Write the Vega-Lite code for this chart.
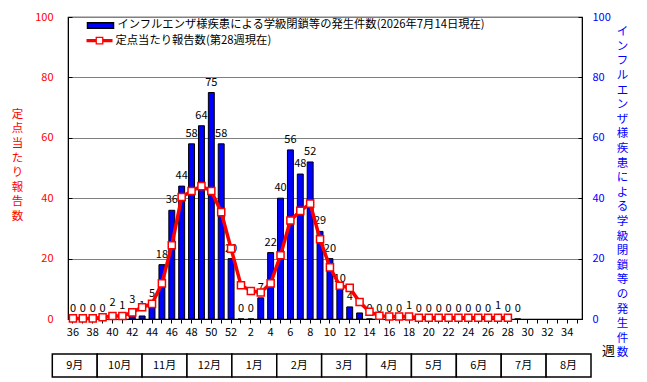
{
  "$schema": "https://vega.github.io/schema/vega-lite/v6.json",
  "width": 514,
  "height": 302,
  "autosize": {"type": "none"},
  "padding": {"left": 68, "top": 17, "right": 65, "bottom": 63},
  "background": "white",
  "config": {
    "font": "Noto Sans CJK JP",
    "view": {"stroke": "black", "strokeWidth": 1.2},
    "axis": {"labelFont": "Noto Sans CJK JP", "titleFont": "Noto Sans CJK JP", "labelFontSize": 11, "domainColor": "black", "tickColor": "black", "titleFontWeight": "normal"},
    "legend": {"labelFont": "Noto Sans CJK JP"}
  },
  "datasets": {
    "weekly": [
      {"week": "36", "cases": 0, "rate": 0.2},
      {"week": "37", "cases": 0, "rate": 0.2},
      {"week": "38", "cases": 0, "rate": 0.2},
      {"week": "39", "cases": 0, "rate": 0.6},
      {"week": "40", "cases": 2, "rate": 1.0},
      {"week": "41", "cases": 1, "rate": 1.0},
      {"week": "42", "cases": 3, "rate": 2.2},
      {"week": "43", "cases": 1, "rate": 3.9},
      {"week": "44", "cases": 5, "rate": 5.0},
      {"week": "45", "cases": 18, "rate": 11.8},
      {"week": "46", "cases": 36, "rate": 24.4},
      {"week": "47", "cases": 44, "rate": 40.4},
      {"week": "48", "cases": 58, "rate": 42.4},
      {"week": "49", "cases": 64, "rate": 44.0},
      {"week": "50", "cases": 75, "rate": 42.4},
      {"week": "51", "cases": 58, "rate": 35.4},
      {"week": "52", "cases": 20, "rate": 23.3},
      {"week": "1", "cases": 0, "rate": 11.2},
      {"week": "2", "cases": 0, "rate": 9.3},
      {"week": "3", "cases": 7, "rate": 8.8},
      {"week": "4", "cases": 22, "rate": 11.8},
      {"week": "5", "cases": 40, "rate": 21.1},
      {"week": "6", "cases": 56, "rate": 32.6},
      {"week": "7", "cases": 48, "rate": 35.8},
      {"week": "8", "cases": 52, "rate": 38.2},
      {"week": "9", "cases": 29, "rate": 26.4},
      {"week": "10", "cases": 20, "rate": 17.1},
      {"week": "11", "cases": 10, "rate": 11.0},
      {"week": "12", "cases": 4, "rate": 10.3},
      {"week": "13", "cases": 2, "rate": 5.6},
      {"week": "14", "cases": 0, "rate": 2.4},
      {"week": "15", "cases": 0, "rate": 1.1},
      {"week": "16", "cases": 0, "rate": 0.8},
      {"week": "17", "cases": 0, "rate": 0.8},
      {"week": "18", "cases": 1, "rate": 0.8},
      {"week": "19", "cases": 0, "rate": 0.4},
      {"week": "20", "cases": 0, "rate": 0.4},
      {"week": "21", "cases": 0, "rate": 0.4},
      {"week": "22", "cases": 0, "rate": 0.4},
      {"week": "23", "cases": 0, "rate": 0.4},
      {"week": "24", "cases": 0, "rate": 0.4},
      {"week": "25", "cases": 0, "rate": 0.4},
      {"week": "26", "cases": 0, "rate": 0.4},
      {"week": "27", "cases": 1, "rate": 0.4},
      {"week": "28", "cases": 0, "rate": 0.4},
      {"week": "29", "cases": 0, "rate": null},
      {"week": "30", "cases": null, "rate": null},
      {"week": "31", "cases": null, "rate": null},
      {"week": "32", "cases": null, "rate": null},
      {"week": "33", "cases": null, "rate": null},
      {"week": "34", "cases": null, "rate": null},
      {"week": "35", "cases": null, "rate": null}
    ],
    "months": [
      {"m": "9月"}, {"m": "10月"}, {"m": "11月"}, {"m": "12月"},
      {"m": "1月"}, {"m": "2月"}, {"m": "3月"}, {"m": "4月"},
      {"m": "5月"}, {"m": "6月"}, {"m": "7月"}, {"m": "8月"}
    ]
  },
  "data": {"name": "weekly"},
  "layer": [
    {
      "mark": {"type": "bar", "stroke": "black", "strokeWidth": 1},
      "encoding": {
        "x": {
          "field": "week", "type": "ordinal",
          "scale": {"domain": ["36","37","38","39","40","41","42","43","44","45","46","47","48","49","50","51","52","1","2","3","4","5","6","7","8","9","10","11","12","13","14","15","16","17","18","19","20","21","22","23","24","25","26","27","28","29","30","31","32","33","34","35"], "paddingInner": 0.4, "paddingOuter": 0.2},
          "axis": {
            "title": "週", "labelExpr": "toNumber(datum.value) % 2 == 0 ? datum.label : ''",
            "labelAngle": 0, "labelOverlap": false, "tickSize": 4, "labelPadding": 3, "labelColor": "black",
            "titleX": 540, "titleY": 31, "titleAlign": "center", "titleBaseline": "middle", "titleFontSize": 13, "titleColor": "black"
          }
        },
        "y": {
          "field": "cases", "type": "quantitative",
          "scale": {"domain": [0, 100], "nice": false},
          "axis": {
            "orient": "right", "values": [0, 20, 40, 60, 80, 100], "labelColor": "#0000ff",
            "grid": true, "gridColor": "#808080", "gridWidth": 1,
            "tickSize": -4, "labelPadding": 14,
            "title": ["イ","ン","フ","ル","エ","ン","ザ","様","疾","患","に","よ","る","学","級","閉","鎖","等","の","発","生","件","数"],
            "titleColor": "#0000ff", "titleFontSize": 11.5, "titleLineHeight": 14.6, "titleAngle": 0,
            "titleX": 40, "titleY": 14.7, "titleAlign": "center", "titleBaseline": "middle"
          }
        },
        "fill": {
          "datum": "インフルエンザ様疾患による学級閉鎖等の発生件数(2026年7月14日現在)",
          "scale": {"range": ["#0000ff"]},
          "legend": {
            "orient": "none", "legendX": 18.5, "legendY": -5.6, "title": null, "padding": 0,
            "symbolType": "M-1,-0.21H1V0.21H-1Z", "symbolSize": 676,
            "labelFontSize": 11.3, "labelLimit": 600, "labelOffset": 3, "labelColor": "black",
            "encode": {"symbols": {"update": {"fill": {"value": "#0000ff"}, "stroke": {"value": "black"}, "strokeWidth": {"value": 0.8}, "opacity": {"value": 1}}}}
          }
        }
      }
    },
    {
      "mark": {"type": "text", "baseline": "bottom", "dy": -5, "fontSize": 11, "color": "black"},
      "encoding": {
        "x": {"field": "week", "type": "ordinal", "scale": {"domain": ["36","37","38","39","40","41","42","43","44","45","46","47","48","49","50","51","52","1","2","3","4","5","6","7","8","9","10","11","12","13","14","15","16","17","18","19","20","21","22","23","24","25","26","27","28","29","30","31","32","33","34","35"], "paddingInner": 0.4, "paddingOuter": 0.2}, "axis": null},
        "y": {"field": "cases", "type": "quantitative", "scale": {"domain": [0, 100], "nice": false}, "axis": null},
        "text": {"field": "cases", "type": "quantitative"}
      }
    },
    {
      "mark": {"type": "line", "strokeWidth": 3.5},
      "encoding": {
        "x": {"field": "week", "type": "ordinal", "scale": {"domain": ["36","37","38","39","40","41","42","43","44","45","46","47","48","49","50","51","52","1","2","3","4","5","6","7","8","9","10","11","12","13","14","15","16","17","18","19","20","21","22","23","24","25","26","27","28","29","30","31","32","33","34","35"], "paddingInner": 0.4, "paddingOuter": 0.2}, "axis": null},
        "y": {
          "field": "rate", "type": "quantitative",
          "scale": {"domain": [0, 100], "nice": false},
          "axis": {
            "orient": "left", "values": [0, 20, 40, 60, 80, 100], "labelColor": "#ff0000", "grid": false,
            "tickSize": -4, "labelPadding": 19,
            "title": ["定","点","当","た","り","報","告","数"],
            "titleColor": "#ff0000", "titleFontSize": 11.5, "titleLineHeight": 14.6, "titleAngle": 0,
            "titleX": -51, "titleY": 97.3, "titleAlign": "center", "titleBaseline": "middle"
          }
        },
        "stroke": {
          "datum": "定点当たり報告数(第28週現在)",
          "scale": {"range": ["#ff0000"]},
          "legend": {
            "orient": "none", "legendX": 18.5, "legendY": 10.6, "title": null, "padding": 0,
            "symbolType": "M-1,-0.13H-0.3V0.13H-1Z M0.3,-0.13H1V0.13H0.3Z M-0.3,-0.3H0.3V0.3H-0.3Z M-0.2,-0.2V0.2H0.2V-0.2Z",
            "symbolSize": 676,
            "labelFontSize": 11.3, "labelLimit": 600, "labelOffset": 3, "labelColor": "black",
            "encode": {"symbols": {"update": {"fill": {"value": "#ff0000"}, "stroke": {"value": "transparent"}, "strokeWidth": {"value": 0}, "opacity": {"value": 1}}}}
          }
        }
      }
    },
    {
      "mark": {"type": "point", "shape": "square", "filled": true, "fill": "white", "stroke": "#ff0000", "strokeWidth": 1.5, "size": 50, "opacity": 1},
      "encoding": {
        "x": {"field": "week", "type": "ordinal", "scale": {"domain": ["36","37","38","39","40","41","42","43","44","45","46","47","48","49","50","51","52","1","2","3","4","5","6","7","8","9","10","11","12","13","14","15","16","17","18","19","20","21","22","23","24","25","26","27","28","29","30","31","32","33","34","35"], "paddingInner": 0.4, "paddingOuter": 0.2}, "axis": null},
        "y": {"field": "rate", "type": "quantitative", "scale": {"domain": [0, 100], "nice": false}, "axis": null}
      }
    },
    {
      "data": {"name": "months"},
      "mark": {"type": "rect", "fill": "white", "stroke": "black", "strokeWidth": 1.5},
      "encoding": {
        "x": {"field": "m", "type": "nominal", "sort": null, "scale": {"type": "band", "range": [-15.7, 523], "paddingInner": 0, "paddingOuter": 0}, "axis": null},
        "y": {"datum": 0, "type": "quantitative", "scale": {"domain": [0, 1], "range": [360, 337]}, "axis": null},
        "y2": {"datum": 1}
      }
    },
    {
      "data": {"name": "months"},
      "mark": {"type": "text", "fontSize": 11, "color": "black", "baseline": "middle"},
      "encoding": {
        "x": {"field": "m", "type": "nominal", "sort": null, "scale": {"type": "band", "range": [-15.7, 523], "paddingInner": 0, "paddingOuter": 0}, "axis": null},
        "y": {"datum": 0.5, "type": "quantitative", "scale": {"domain": [0, 1], "range": [360, 337]}, "axis": null},
        "text": {"field": "m", "type": "nominal"}
      }
    }
  ],
  "resolve": {"scale": {"x": "independent", "y": "independent"}}
}
